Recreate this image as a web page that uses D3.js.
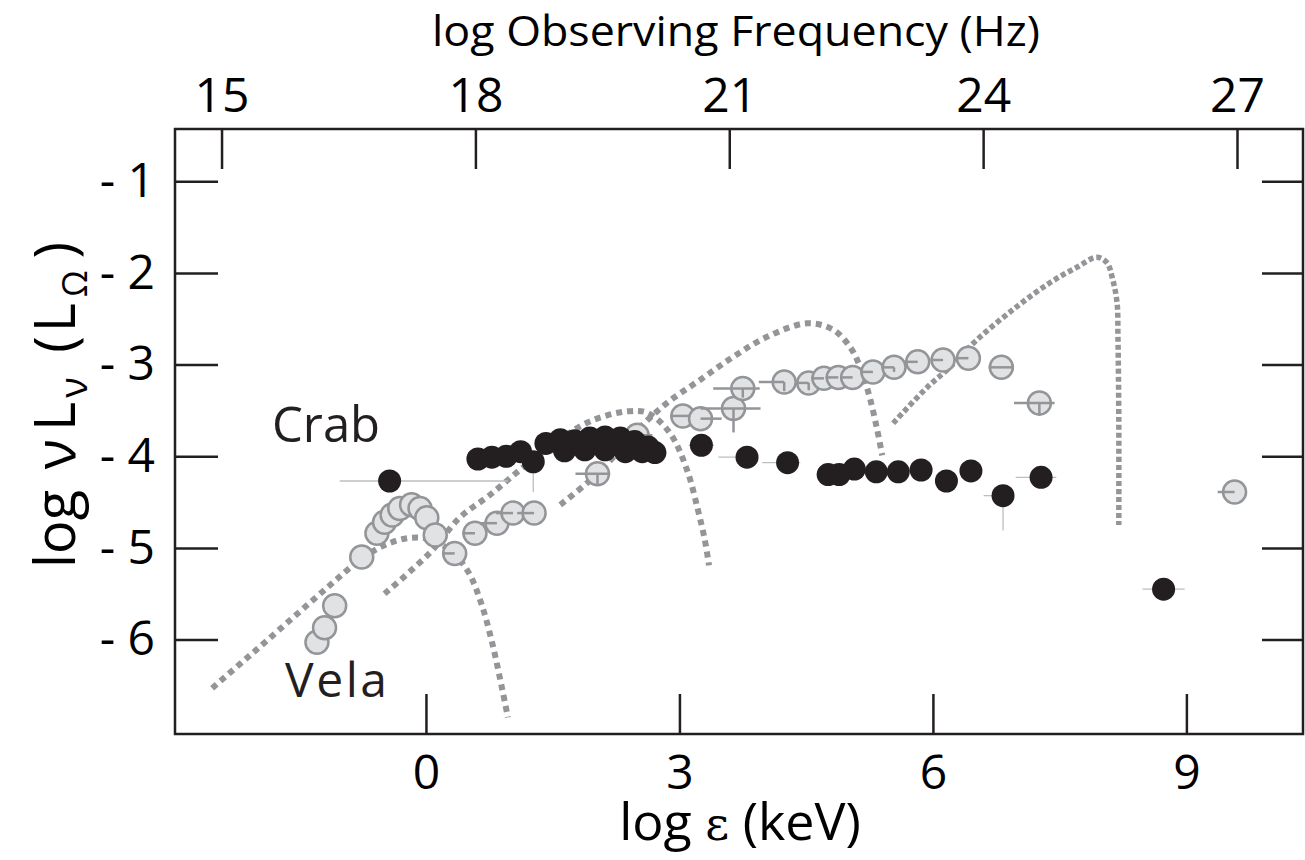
<!DOCTYPE html>
<html>
<head>
<meta charset="utf-8">
<script src="https://cdn.jsdelivr.net/npm/d3@7"></script>
<style>
  html, body { margin: 0; padding: 0; background: #fff; }
  svg { display: block; font-family: "Open Sans", "Noto Sans", sans-serif; }
</style>
</head>
<body>
<svg id="chart" width="1305" height="860"></svg>
<script>
// ---------------- DATA ----------------
// bottom axis: log ε (keV); top axis: log observing frequency (Hz); left: log νLν (LΩ)
const bottomTicks = [0, 3, 6, 9];
const topTicks = [15, 18, 21, 24, 27];
const leftTicks = [-1, -2, -3, -4, -5, -6];

// Crab (filled black points)
const crabE = [-0.43, 0.615, 0.78, 0.95, 1.12, 1.27, 1.42, 1.59, 1.76, 1.94, 2.12, 2.30, 2.47, 2.63, 2.71,
               1.64, 1.88, 2.12, 2.36, 2.56, 3.26, 3.80, 4.28, 4.76, 4.89, 5.07, 5.33, 5.59, 5.86, 6.16,
               6.45, 6.83, 7.28, 8.73];
const crabL = [-4.27, -4.03, -4.01, -4.00, -3.95, -4.06, -3.86, -3.82, -3.83, -3.80, -3.79, -3.80, -3.84, -3.90, -3.96,
               -3.94, -3.93, -3.93, -3.95, -3.95, -3.88, -4.01, -4.07, -4.20, -4.20, -4.14, -4.17, -4.17, -4.15, -4.27,
               -4.16, -4.43, -4.23, -5.45];
// Crab error bars (only points that show them)
const crabBarE     = [-0.43, 1.27, 3.26, 3.80, 4.28, 6.83, 7.28, 8.73];
const crabBarL     = [-4.27, -4.06, -3.88, -4.01, -4.07, -4.43, -4.23, -5.45];
const crabBarLeft  = [0.59, 0, 0.15, 0.34, 0.30, 0.23, 0.30, 0.25];
const crabBarRight = [1.40, 0, 0.15, 0.10, 0.15, 0, 0.18, 0.25];
const crabBarDown  = [0, 0.33, 0, 0, 0, 0.38, 0, 0];

// Vela (open grey points)
const velaE = [-1.29, -1.20, -1.08, -0.76, -0.58, -0.49, -0.40, -0.31, -0.17, -0.07, 0.01, 0.11,
               0.34, 0.58, 0.84, 1.03, 1.28, 2.03, 2.50, 3.04, 3.25, 3.64, 3.75, 4.24, 4.53, 4.71,
               4.88, 5.05, 5.29, 5.54, 5.82, 6.12, 6.42, 6.81, 7.26, 9.57];
const velaL = [-6.03, -5.87, -5.63, -5.10, -4.84, -4.72, -4.64, -4.57, -4.53, -4.57, -4.67, -4.86,
               -5.06, -4.84, -4.73, -4.62, -4.62, -4.19, -3.77, -3.56, -3.59, -3.48, -3.26, -3.19, -3.20, -3.15,
               -3.14, -3.14, -3.08, -3.03, -2.97, -2.95, -2.93, -3.03, -3.42, -4.39];
const velaErrLeft  = [0,0,0,0,0,0,0,0,0,0,0,0,
                      0.15,0.15,0.20,0.20,0.20,0.26,0.30,0.15,0,0.39,0.35,0.30,0.15,0.15,
                      0.15,0.15,0.15,0.15,0.15,0.15,0.15,0.15,0.30,0.20];
const velaErrRight = [0,0,0,0,0,0,0,0,0,0,0,0,
                      0,0,0,0,0,0.15,0.18,0.15,0.25,0.32,0.20,0,0,0,
                      0,0,0,0,0,0,0,0.15,0.18,0];
const velaErrDown  = [0,0,0,0,0,0,0,0,0,0,0,0,
                      0,0,0,0,0,0.13,0.13,0,0,0.26,0.10,0.10,0.08,0,
                      0,0,0,0.05,0,0,0,0,0.14,0];

// Model curves (dotted)
const curveA_E = [-2.53, -2.08, -1.61, -1.14, -0.78, -0.49, -0.19, 0.07, 0.31, 0.50, 0.66, 0.79, 0.90, 0.97];
const curveA_L = [-6.53, -6.17, -5.79, -5.41, -5.13, -4.97, -4.89, -4.91, -5.05, -5.26, -5.62, -6.06, -6.53, -6.85];
const curveB_E = [-0.49, 0.05, 0.40, 0.76, 1.15, 1.53, 1.94, 2.38, 2.63, 2.89, 3.09, 3.22, 3.30, 3.35];
const curveB_L = [-5.50, -5.05, -4.67, -4.42, -4.12, -3.85, -3.62, -3.51, -3.53, -3.75, -4.15, -4.59, -4.91, -5.19];
const curveC_E = [1.59, 1.92, 2.24, 2.53, 2.85, 3.24, 3.63, 4.03, 4.51, 4.82, 5.02, 5.14, 5.25, 5.34, 5.40];
const curveC_L = [-4.53, -4.28, -3.99, -3.69, -3.42, -3.17, -2.92, -2.70, -2.55, -2.62, -2.81, -3.03, -3.35, -3.71, -3.99];
const curveD_E = [5.53, 5.93, 6.20, 6.52, 6.99, 7.38, 7.70, 7.94, 8.06, 8.13, 8.18, 8.19, 8.20, 8.20];
const curveD_L = [-3.64, -3.25, -3.03, -2.73, -2.37, -2.11, -1.94, -1.83, -1.89, -2.08, -2.33, -2.70, -3.61, -4.75];

// ---------------- CHART ----------------
const svg = d3.select("#chart");
const ink = "#231f20";
const grey = "#939598";

const plotLeft = 175, plotRight = 1303, plotTop = 129, plotBottom = 734;
const x = d3.scaleLinear().domain([-2.97, 10.38]).range([plotLeft, plotRight]);
const xTop = d3.scaleLinear().domain([14.45, 27.78]).range([plotLeft, plotRight]);
const y = d3.scaleLinear().domain([-0.43, -7.03]).range([plotTop, plotBottom]);

// curves
const line = d3.line().x(d => x(d[0])).y(d => y(d[1])).curve(d3.curveCatmullRom.alpha(0.5));
const curves = [
  {E: curveA_E, L: curveA_L, dash: "6,5", w: 6},
  {E: curveB_E, L: curveB_L, dash: "6,5", w: 6},
  {E: curveC_E, L: curveC_L, dash: "6,5", w: 6},
  {E: curveD_E, L: curveD_L, dash: "5,3", w: 5.5}
];
curves.forEach(c => {
  svg.append("path")
    .datum(c.E.map((e, i) => [e, c.L[i]]))
    .attr("d", line)
    .attr("fill", "none")
    .attr("stroke", grey)
    .attr("stroke-width", c.w)
    .attr("stroke-dasharray", c.dash);
});

// Crab error bars (thin, behind points)
const cb = svg.append("g").attr("stroke", "#bcbec0").attr("stroke-width", 1.3);
crabBarE.forEach((e, i) => {
  const l = crabBarL[i];
  if (crabBarLeft[i] || crabBarRight[i])
    cb.append("line").attr("x1", x(e - crabBarLeft[i])).attr("x2", x(e + crabBarRight[i]))
      .attr("y1", y(l)).attr("y2", y(l));
  if (crabBarDown[i])
    cb.append("line").attr("x1", x(e)).attr("x2", x(e))
      .attr("y1", y(l)).attr("y2", y(l - crabBarDown[i]));
});

// Vela points
const vg = svg.append("g");
velaE.forEach((e, i) => {
  vg.append("circle").attr("cx", x(e)).attr("cy", y(velaL[i])).attr("r", 11.5)
    .attr("fill", "#e1e2e3").attr("stroke", grey).attr("stroke-width", 2.5);
  const g = vg.append("g").attr("stroke", grey).attr("stroke-width", 2.5);
  if (velaErrLeft[i] || velaErrRight[i])
    g.append("line").attr("x1", x(e - velaErrLeft[i])).attr("x2", x(e + velaErrRight[i]))
      .attr("y1", y(velaL[i])).attr("y2", y(velaL[i]));
  if (velaErrDown[i])
    g.append("line").attr("x1", x(e)).attr("x2", x(e))
      .attr("y1", y(velaL[i])).attr("y2", y(velaL[i] - velaErrDown[i]));
});

// Crab points
svg.append("g").selectAll("circle")
  .data(crabE.map((e, i) => [e, crabL[i]]))
  .join("circle")
  .attr("cx", d => x(d[0])).attr("cy", d => y(d[1])).attr("r", 11.5)
  .attr("fill", ink);

// frame
svg.append("rect").attr("x", plotLeft).attr("y", plotTop)
  .attr("width", plotRight - plotLeft).attr("height", plotBottom - plotTop)
  .attr("fill", "none").attr("stroke", ink).attr("stroke-width", 2.5);

function styleAxis(g, fs) {
  g.select(".domain").remove();
  g.selectAll(".tick line").attr("stroke", ink).attr("stroke-width", 2.5);
  g.selectAll(".tick text").attr("fill", "#000").attr("font-size", fs)
    .attr("font-family", "'Open Sans', sans-serif");
}

svg.append("g").attr("transform", `translate(0,${plotBottom})`)
  .call(d3.axisBottom(x).tickValues(bottomTicks).tickSize(-40).tickPadding(21).tickFormat(d3.format("d")))
  .call(g => styleAxis(g, 48));

svg.append("g").attr("transform", `translate(0,${plotTop})`)
  .call(d3.axisTop(xTop).tickValues(topTicks).tickSize(-40).tickPadding(17).tickFormat(d3.format("d")))
  .call(g => styleAxis(g, 48));

svg.append("g").attr("transform", `translate(${plotLeft},0)`)
  .call(d3.axisLeft(y).tickValues(leftTicks).tickSize(-43).tickPadding(20).tickFormat(d => "- " + Math.abs(d)))
  .call(g => styleAxis(g, 48));

svg.append("g").attr("transform", `translate(${plotRight},0)`)
  .call(d3.axisRight(y).tickValues(leftTicks).tickSize(-41).tickFormat(""))
  .call(g => styleAxis(g, 48));

// labels
svg.append("text").attr("x", 272).attr("y", 442).attr("font-size", 49).attr("fill", ink).text("Crab");
svg.append("text").attr("x", 285).attr("y", 697).attr("font-size", 48).attr("fill", ink)
  .attr("textLength", 102).text("Vela");

// top title
svg.append("text").attr("x", 736).attr("y", 46).attr("text-anchor", "middle")
  .attr("font-size", 42).attr("fill", "#000")
  .attr("textLength", 608).attr("lengthAdjust", "spacingAndGlyphs")
  .text("log Observing Frequency (Hz)");

// bottom title
const bt = svg.append("text").attr("x", 740).attr("y", 840).attr("text-anchor", "middle")
  .attr("font-size", 52).attr("fill", "#000");
bt.append("tspan").text("log ");
bt.append("tspan").attr("font-family", "'DejaVu Serif', serif").attr("font-size", 46).text("ε");
bt.append("tspan").text(" (keV)");

// left title
const lt = svg.append("text").attr("transform", "translate(75,405) rotate(-90)")
  .attr("text-anchor", "middle").attr("font-size", 56).attr("fill", "#000");
lt.append("tspan").text("log ");
lt.append("tspan").attr("dx", 6).text("ν");
lt.append("tspan").attr("dx", 8).text("L");
lt.append("tspan").attr("font-size", 38).attr("dx", 4).attr("dy", 12).text("ν");
lt.append("tspan").attr("dx", 10).attr("dy", -12).text(" (");
lt.append("tspan").attr("dx", 4).text("L");
lt.append("tspan").attr("font-size", 34).attr("dx", 6).attr("dy", 12).text("Ω");
lt.append("tspan").attr("dx", 12).attr("dy", -12).text(")");
</script>
</body>
</html>
